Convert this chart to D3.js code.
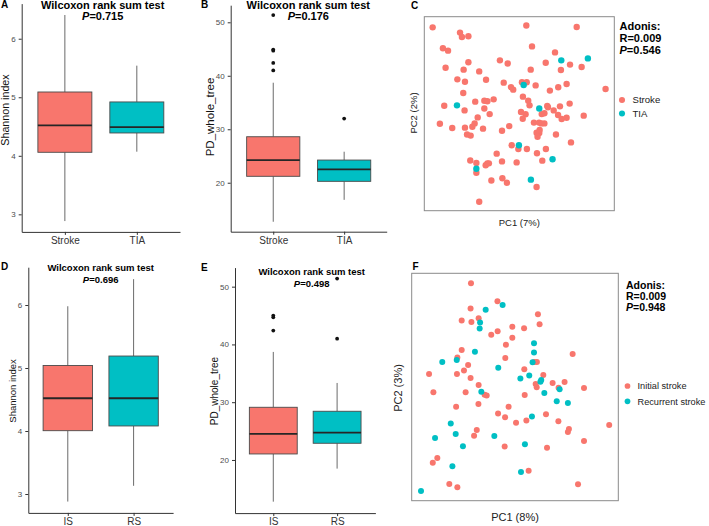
<!DOCTYPE html>
<html><head><meta charset="utf-8">
<script src="https://cdn.jsdelivr.net/npm/d3@7"></script>
<style>
html,body{margin:0;padding:0;background:#fff;}
svg{display:block;font-family:"Liberation Sans",Arial,Helvetica,sans-serif;}
</style></head><body>
<svg id="c" width="709" height="526"></svg>
<script>
// ---------------- DATA ----------------
const groupsStrokeTIA = ["Stroke", "TIA"];
const groupsISRS = ["IS", "RS"];
const ticksShannon = [3, 4, 5, 6];
const ticksPD = [20, 30, 40, 50];
// box stats: [lower whisker, Q1, median, Q3, upper whisker]
const shannonStrokeTIA = [[2.885, 4.06, 4.52, 5.09, 6.405], [4.07, 4.39, 4.49, 4.92, 5.54]];
const pdStrokeTIA = [[12.7, 21.2, 24.24, 28.6, 38.7], [16.8, 20.26, 22.5, 24.24, 25.8]];
const pdStrokeTIAOutliers = [[51.36, 44.9, 44.7, 42.4, 41.0], [32.0]];
const shannonISRS = [[2.88, 4.005, 4.52, 5.04, 5.98], [3.13, 4.08, 4.52, 5.19, 6.41]];
const pdISRS = [[12.78, 21.04, 24.5, 29.12, 38.7], [18.5, 22.89, 24.73, 28.43, 33.33]];
const pdISRSOutliers = [[45.0, 44.7, 42.4], [51.4, 41.0]];
const pValues = ["0.715", "0.176", "0.696", "0.498"];
const adonisC = ["0.009", "0.546"];
const adonisF = ["0.009", "0.948"];
const legendC = ["Stroke", "TIA"];
const legendF = ["Initial stroke", "Recurrent stroke"];
// PCoA coordinates (relative PC1, PC2 within plot frame)
const pcoaStroke = [[0.044,0.945],[0.537,0.955],[0.802,0.947],[0.188,0.918],[0.198,0.895],[0.232,0.899],[0.098,0.837],[0.125,0.825],[0.567,0.847],[0.688,0.816],[0.232,0.765],[0.398,0.775],[0.439,0.759],[0.639,0.763],[0.112,0.737],[0.207,0.727],[0.289,0.718],[0.560,0.727],[0.719,0.725],[0.767,0.753],[0.828,0.741],[0.174,0.677],[0.214,0.665],[0.325,0.675],[0.418,0.660],[0.514,0.662],[0.539,0.662],[0.586,0.646],[0.456,0.637],[0.468,0.624],[0.749,0.653],[0.705,0.636],[0.661,0.619],[0.954,0.627],[0.205,0.607],[0.519,0.588],[0.105,0.541],[0.212,0.517],[0.268,0.562],[0.316,0.567],[0.332,0.564],[0.365,0.574],[0.547,0.567],[0.554,0.543],[0.316,0.527],[0.647,0.540],[0.651,0.533],[0.681,0.517],[0.714,0.538],[0.765,0.552],[0.344,0.498],[0.281,0.481],[0.509,0.509],[0.533,0.497],[0.518,0.474],[0.618,0.498],[0.632,0.502],[0.704,0.493],[0.723,0.473],[0.749,0.479],[0.839,0.490],[0.082,0.448],[0.147,0.426],[0.214,0.428],[0.253,0.433],[0.265,0.450],[0.309,0.423],[0.409,0.412],[0.447,0.436],[0.577,0.454],[0.604,0.454],[0.616,0.450],[0.632,0.450],[0.225,0.393],[0.244,0.387],[0.591,0.402],[0.605,0.400],[0.596,0.381],[0.693,0.393],[0.772,0.352],[0.460,0.337],[0.495,0.318],[0.540,0.318],[0.593,0.296],[0.640,0.318],[0.381,0.294],[0.409,0.254],[0.486,0.249],[0.621,0.258],[0.242,0.259],[0.274,0.246],[0.323,0.234],[0.332,0.244],[0.340,0.244],[0.274,0.196],[0.353,0.156],[0.411,0.167],[0.435,0.144],[0.591,0.122],[0.289,0.046],[0.607,0.416]];
const pcoaTIA = [[0.721,0.775],[0.861,0.785],[0.523,0.648],[0.172,0.543],[0.605,0.527],[0.498,0.337],[0.675,0.265],[0.274,0.216],[0.561,0.160]];
const pcoaInitial = [[0.287,0.956],[0.415,0.877],[0.285,0.845],[0.324,0.802],[0.242,0.792],[0.289,0.786],[0.611,0.820],[0.619,0.776],[0.487,0.765],[0.544,0.758],[0.416,0.745],[0.385,0.730],[0.487,0.717],[0.456,0.686],[0.242,0.663],[0.221,0.630],[0.453,0.628],[0.779,0.645],[0.273,0.597],[0.253,0.573],[0.219,0.557],[0.084,0.557],[0.545,0.578],[0.594,0.610],[0.606,0.610],[0.637,0.553],[0.285,0.540],[0.324,0.509],[0.261,0.477],[0.105,0.477],[0.353,0.466],[0.363,0.463],[0.547,0.465],[0.600,0.513],[0.605,0.499],[0.682,0.518],[0.740,0.522],[0.711,0.497],[0.834,0.496],[0.323,0.425],[0.215,0.413],[0.469,0.413],[0.418,0.383],[0.452,0.367],[0.505,0.343],[0.555,0.353],[0.650,0.380],[0.710,0.349],[0.761,0.315],[0.756,0.302],[0.956,0.333],[0.315,0.311],[0.302,0.286],[0.450,0.238],[0.655,0.233],[0.834,0.262],[0.124,0.188],[0.102,0.167],[0.566,0.132],[0.182,0.073],[0.221,0.059],[0.805,0.072]];
const pcoaRecurrent = [[0.440,0.861],[0.358,0.840],[0.331,0.784],[0.329,0.757],[0.592,0.692],[0.592,0.652],[0.306,0.655],[0.218,0.619],[0.148,0.610],[0.419,0.585],[0.585,0.609],[0.526,0.537],[0.569,0.551],[0.627,0.531],[0.623,0.523],[0.337,0.479],[0.642,0.474],[0.702,0.437],[0.756,0.430],[0.582,0.370],[0.189,0.339],[0.213,0.293],[0.113,0.276],[0.400,0.284],[0.248,0.239],[0.548,0.248],[0.197,0.152],[0.529,0.126],[0.045,0.043],[0.716,0.490]];

// ---------------- DRAW ----------------
const FONT = '"Liberation Sans", Arial, Helvetica, sans-serif';
const colors = ["#F8766D", "#00BFC4"];
const svg = d3.select("#c");

function label(x, y, t, size) {
  svg.append("text").attr("x", x).attr("y", y).attr("font-size", size).attr("font-weight", "bold")
    .attr("fill", "#000").text(t);
}

function pLine(g, x, y, size, prefix, val, anchor) {
  const t = g.append("text").attr("x", x).attr("y", y).attr("font-size", size).attr("font-weight", "bold")
    .attr("text-anchor", anchor).attr("fill", "#000");
  if (prefix) t.append("tspan").text(prefix);
  t.append("tspan").attr("font-style", "italic").text("P");
  t.append("tspan").text("=" + val);
}

function boxPanel(cfg) {
  const x = d3.scalePoint().domain(cfg.groups).range([cfg.x0, cfg.x1]).padding(0.6);
  const y = d3.scaleLinear().domain(cfg.domain).range([cfg.yBot, cfg.yTop]);
  const g = svg.append("g");
  const bw = x.step() * 0.75;
  cfg.stats.forEach((s, i) => {
    const cx = x(cfg.groups[i]);
    const [mn, q1, md, q3, mx] = s;
    g.append("line").attr("x1", cx).attr("x2", cx).attr("y1", y(mx)).attr("y2", y(q3))
      .attr("stroke", "#6a6a6a").attr("stroke-width", 1);
    g.append("line").attr("x1", cx).attr("x2", cx).attr("y1", y(q1)).attr("y2", y(mn))
      .attr("stroke", "#6a6a6a").attr("stroke-width", 1);
    g.append("rect").attr("x", cx - bw / 2).attr("y", y(q3)).attr("width", bw).attr("height", y(q1) - y(q3))
      .attr("fill", colors[i]).attr("stroke", "#4a4a4a").attr("stroke-width", 0.9);
    g.append("line").attr("x1", cx - bw / 2).attr("x2", cx + bw / 2).attr("y1", y(md)).attr("y2", y(md))
      .attr("stroke", "#262626").attr("stroke-width", 1.8);
    if (cfg.outliers) {
      g.selectAll(null).data(cfg.outliers[i]).enter().append("circle")
        .attr("cx", cx).attr("cy", d => y(d)).attr("r", 1.9).attr("fill", "#111");
    }
  });
  const gy = svg.append("g").attr("transform", `translate(${cfg.x0},0)`)
    .call(d3.axisLeft(y).tickValues(cfg.ticks).tickFormat(d3.format("d")).tickSize(3).tickPadding(3).tickSizeOuter(0));
  gy.attr("font-family", FONT).attr("font-size", cfg.tickFs);
  gy.select(".domain").attr("stroke", "#333").attr("stroke-width", 1);
  gy.selectAll(".tick line").attr("stroke", "#333");
  gy.selectAll(".tick text").attr("fill", "#4d4d4d");
  const gx = svg.append("g").attr("transform", `translate(0,${cfg.yBot})`)
    .call(d3.axisBottom(x).tickSize(3).tickPadding(2).tickSizeOuter(0));
  gx.attr("font-family", FONT).attr("font-size", cfg.xFs);
  gx.select(".domain").attr("stroke", "#333").attr("stroke-width", 1);
  gx.selectAll(".tick line").attr("stroke", "#333");
  gx.selectAll(".tick text").attr("fill", "#333");
  // y title
  svg.append("text").attr("transform", `translate(${cfg.ytX},${cfg.ytY}) rotate(-90)`)
    .attr("text-anchor", "middle").attr("font-size", cfg.ytFs).attr("fill", "#111").text(cfg.yTitle);
  // titles
  svg.append("text").attr("x", cfg.tX).attr("y", cfg.tY1).attr("text-anchor", "middle")
    .attr("font-size", cfg.tFs).attr("font-weight", "bold").attr("fill", "#000").text("Wilcoxon rank sum test");
  pLine(svg, cfg.tX, cfg.tY2, cfg.tFs, "", cfg.p, "middle");
}

function scatterPanel(cfg) {
  const x = d3.scaleLinear().domain([0, 1]).range([cfg.x0, cfg.x1]);
  const y = d3.scaleLinear().domain([0, 1]).range([cfg.y1, cfg.y0]);
  svg.append("rect").attr("x", cfg.x0).attr("y", cfg.y0).attr("width", cfg.x1 - cfg.x0).attr("height", cfg.y1 - cfg.y0)
    .attr("fill", "#fff").attr("stroke", "#8a8a8a").attr("stroke-width", 1);
  [cfg.a, cfg.b].forEach((pts, i) => {
    svg.append("g").selectAll("circle").data(pts).enter().append("circle")
      .attr("cx", d => x(d[0])).attr("cy", d => y(d[1])).attr("r", cfg.r).attr("fill", colors[i]);
  });
  svg.append("text").attr("x", (cfg.x0 + cfg.x1) / 2).attr("y", cfg.xtY).attr("text-anchor", "middle")
    .attr("font-size", cfg.axFs).attr("fill", "#222").text(cfg.xTitle);
  svg.append("text").attr("transform", `translate(${cfg.ytX},${cfg.ytY}) rotate(-90)`)
    .attr("text-anchor", "middle").attr("font-size", cfg.axFs).attr("fill", "#222").text(cfg.yTitle);
  // Adonis
  const ax = cfg.adX;
  svg.append("text").attr("x", ax).attr("y", cfg.adY).attr("font-size", cfg.adFs).attr("font-weight", "bold").text("Adonis:");
  svg.append("text").attr("x", ax).attr("y", cfg.adY + cfg.adDy).attr("font-size", cfg.adFs).attr("font-weight", "bold").text("R=" + cfg.adonis[0]);
  pLine(svg, ax, cfg.adY + 2 * cfg.adDy, cfg.adFs, "", cfg.adonis[1], "start");
  // legend
  cfg.legend.forEach((t, i) => {
    const ly = cfg.lgY + i * cfg.lgDy;
    svg.append("circle").attr("cx", cfg.lgX).attr("cy", ly).attr("r", cfg.r * 0.95).attr("fill", colors[i]);
    svg.append("text").attr("x", cfg.lgX + cfg.lgGap).attr("y", ly).attr("dy", "0.35em")
      .attr("font-size", cfg.lgFs).attr("fill", "#222").text(t);
  });
}

// Panel A
boxPanel({groups: groupsStrokeTIA, stats: shannonStrokeTIA, domain: [2.70, 6.60], ticks: ticksShannon,
  x0: 21.7, x1: 180, yTop: 3.6, yBot: 231.9, tickFs: 8, xFs: 10,
  yTitle: "Shannon index", ytX: 8.5, ytY: 110, ytFs: 10.7,
  tX: 102.7, tY1: 8.5, tY2: 19.5, tFs: 11, p: pValues[0]});
// Panel B
boxPanel({groups: groupsStrokeTIA, stats: pdStrokeTIA, outliers: pdStrokeTIAOutliers, domain: [10.84, 53.2], ticks: ticksPD,
  x0: 230.7, x1: 386.7, yTop: 5.2, yBot: 231.7, tickFs: 8, xFs: 10,
  yTitle: "PD_whole_tree", ytX: 214, ytY: 117, ytFs: 11.5,
  tX: 308.3, tY1: 8.5, tY2: 19.5, tFs: 11, p: pValues[1]});
// Panel D
boxPanel({groups: groupsISRS, stats: shannonISRS, domain: [2.70, 6.60], ticks: ticksShannon,
  x0: 28.3, x1: 173.1, yTop: 267.2, yBot: 512.9, tickFs: 8, xFs: 10,
  yTitle: "Shannon index", ytX: 15.5, ytY: 391, ytFs: 9.5,
  tX: 100.7, tY1: 271, tY2: 283, tFs: 9.5, p: pValues[2]});
// Panel E
boxPanel({groups: groupsISRS, stats: pdISRS, outliers: pdISRSOutliers, domain: [10.8, 53.3], ticks: ticksPD,
  x0: 235, x1: 375.4, yTop: 267.6, yBot: 513.1, tickFs: 8, xFs: 10,
  yTitle: "PD_whole_tree", ytX: 217.5, ytY: 391, ytFs: 10,
  tX: 311.7, tY1: 274.5, tY2: 286.5, tFs: 9.5, p: pValues[3]});

// Panel C
scatterPanel({a: pcoaStroke, b: pcoaTIA, x0: 424.3, x1: 614.3, y0: 16.7, y1: 210.7, r: 3.2,
  xTitle: "PC1 (7%)", yTitle: "PC2 (2%)", xtY: 226, ytX: 416.5, ytY: 113, axFs: 9.5,
  adonis: adonisC, adX: 619.5, adY: 30, adDy: 12.2, adFs: 11,
  legend: legendC, lgX: 622, lgY: 100, lgDy: 13.5, lgGap: 10.5, lgFs: 9.6});
// Panel F
scatterPanel({a: pcoaInitial, b: pcoaRecurrent, x0: 411.7, x1: 618.3, y0: 273.3, y1: 500.7, r: 3.0,
  xTitle: "PC1 (8%)", yTitle: "PC2 (3%)", xtY: 520.5, ytX: 402, ytY: 388, axFs: 11,
  adonis: adonisF, adX: 626, adY: 288.7, adDy: 11.3, adFs: 10.5,
  legend: legendF, lgX: 627.5, lgY: 386, lgDy: 15.3, lgGap: 10, lgFs: 9.2});

// panel letters
label(1, 8, "A", 10);
label(201, 8, "B", 10);
label(411, 9, "C", 10);
label(1, 270, "D", 10);
label(201, 271, "E", 10);
label(412.5, 269.5, "F", 10);
</script>
</body></html>
